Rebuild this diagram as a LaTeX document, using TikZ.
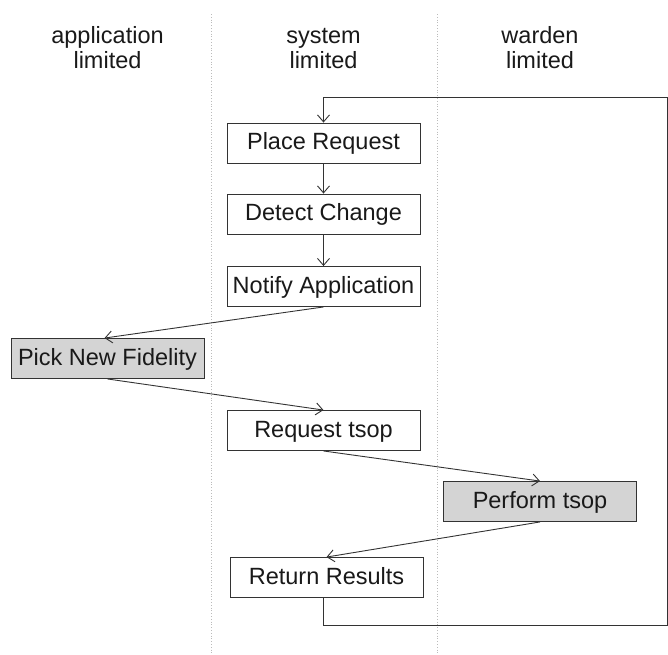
\documentclass[tikz,border=0pt]{standalone}
\usepackage{fontspec}
\setmainfont{Liberation Sans}
\usetikzlibrary{arrows.meta}
\definecolor{ln}{HTML}{333333}
\definecolor{gfill}{HTML}{D4D4D4}
\definecolor{dv}{HTML}{BBBBBB}
\begin{document}
\begin{tikzpicture}[x=1pt,y=-1pt,
  box/.style={draw=ln, line width=0.9pt, fill=white, minimum width=193pt, minimum height=40pt,
     inner sep=0pt, text height=17pt, text depth=4pt, font=\fontsize{23.5}{25}\selectfont, text=black!90},
  gbox/.style={box, fill=gfill},
  hdr/.style={anchor=base, inner sep=0pt, font=\fontsize{23.5}{25}\selectfont, text=black!90},
  conn/.style={draw=ln, line width=0.9pt, -{Straight Barb[length=7pt,width=12pt]}},
  divider/.style={draw=dv, line width=0.8pt, dotted}]
\useasboundingbox (0,0) rectangle (668,654);
% dividers
\coordinate (d1t) at (211.5,14);
\coordinate (d1b) at (211.5,654);
\coordinate (d2t) at (437,14);
\coordinate (d2b) at (437,654);
\draw[divider] (d1t) -- (d1b);
\draw[divider] (d2t) -- (d2b);
% headers
\node[hdr] (h1a) at (107.5,43) {application};
\node[hdr] (h1b) at (107.5,68) {limited};
\node[hdr] (h2a) at (323.5,43) {system};
\node[hdr] (h2b) at (323.5,68) {limited};
\node[hdr] (h3a) at (540,43) {warden};
\node[hdr] (h3b) at (540,68) {limited};
% boxes
\node[box]  (place)   at (323.5,143)   {Place Request};
\node[box]  (detect)  at (323.5,214)   {Detect Change};
\node[box]  (notify)  at (323.5,286.5) {Notify Application};
\node[gbox] (pick)    at (107.5,358.5) {Pick New Fidelity};
\node[box]  (request) at (323.5,430.5) {Request tsop};
\node[gbox] (perform) at (540,501.5)   {Perform tsop};
\node[box]  (return)  at (326.5,577.5) {Return Results};
% connectors
\draw[conn] (place) -- (detect);
\draw[conn] (detect) -- (notify);
\draw[conn] (notify.south) -- ([xshift=-3pt]pick.north);
\draw[conn] (pick.south) -- (request.north);
\draw[conn] (request.south) -- (perform.north);
\draw[conn] (perform.south) -- (return.north);
\coordinate (lb) at (667,625.5);
\coordinate (lt) at (667,97);
\draw[conn] ([xshift=-3pt]return.south) |- (lb) -- (lt) -| (place.north);
\end{tikzpicture}
\end{document}
